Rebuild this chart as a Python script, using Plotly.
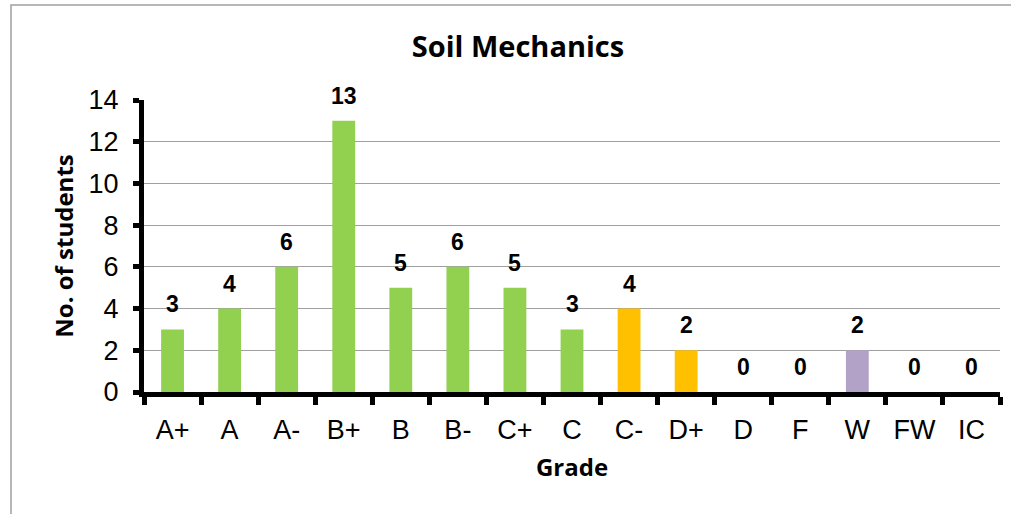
import plotly.graph_objects as go

grades = ["A+", "A", "A-", "B+", "B", "B-", "C+", "C", "C-", "D+", "D", "F", "W", "FW", "IC"]
students = [3, 4, 6, 13, 5, 6, 5, 3, 4, 2, 0, 0, 2, 0, 0]
bar_colors = ["#92D050"] * 8 + ["#FFC000"] * 2 + ["#92D050"] * 2 + ["#B3A2C7"] + ["#92D050"] * 2

W, H = 1011, 514
L, R, T, B = 144, 11, 100, 122
pw, ph = W - L - R, H - T - B

fig = go.Figure(go.Bar(
    x=grades, y=students,
    marker=dict(color=bar_colors, line=dict(width=0)),
    width=0.4,
    cliponaxis=False,
))

annotations = [
    dict(x=g, y=v, xref="x", yref="y", text=f"<b>{v}</b>", showarrow=False,
         yanchor="bottom", yshift=10,
         font=dict(family="Liberation Sans", size=23, color="black"))
    for g, v in zip(grades, students)
]

fig.update_layout(
    width=W, height=H,
    margin=dict(l=L, r=R, t=T, b=B),
    paper_bgcolor="white", plot_bgcolor="white",
    showlegend=False,
    annotations=annotations,
    title=dict(text="<b>Soil Mechanics</b>", x=(518 - L) / pw, xref="paper", xanchor="center",
               y=1 - 47 / H, yanchor="middle",
               font=dict(family="Open Sans", size=29, color="black")),
    xaxis=dict(
        type="category",
        showline=True, linecolor="black", linewidth=5,
        ticks="outside", tickson="boundaries", ticklen=8, tickwidth=5, tickcolor="black",
        tickfont=dict(family="Liberation Sans", size=27, color="black"),
        ticklabelstandoff=10,
        title=dict(text="<b>Grade</b>", font=dict(family="Open Sans", size=24, color="black"), standoff=16),
        showgrid=False,
    ),
    yaxis=dict(
        range=[0, 14], dtick=2,
        showline=True, linecolor="black", linewidth=5,
        ticks="outside", ticklen=6, tickwidth=5, tickcolor="black",
        tickfont=dict(family="Liberation Sans", size=27, color="black"),
        ticklabelstandoff=9,
        showgrid=True, gridcolor="#A0A0A0", gridwidth=1,
        zeroline=False,
        title=dict(text="<b>No. of students</b>", font=dict(family="Open Sans", size=24, color="black"), standoff=10),
    ),
    shapes=[dict(
        type="rect", xref="paper", yref="paper",
        x0=(11 - L) / pw, x1=(W + 5 - L) / pw,
        y0=-(B + 10) / ph, y1=(H - B - 5) / ph,
        line=dict(color="#A0A0A0", width=1.5), fillcolor="rgba(0,0,0,0)", layer="below",
    )],
)

fig.write_html("out.html", config={"displayModeBar": False},
               post_script="document.body.style.margin='0';document.body.style.overflow='hidden';")
